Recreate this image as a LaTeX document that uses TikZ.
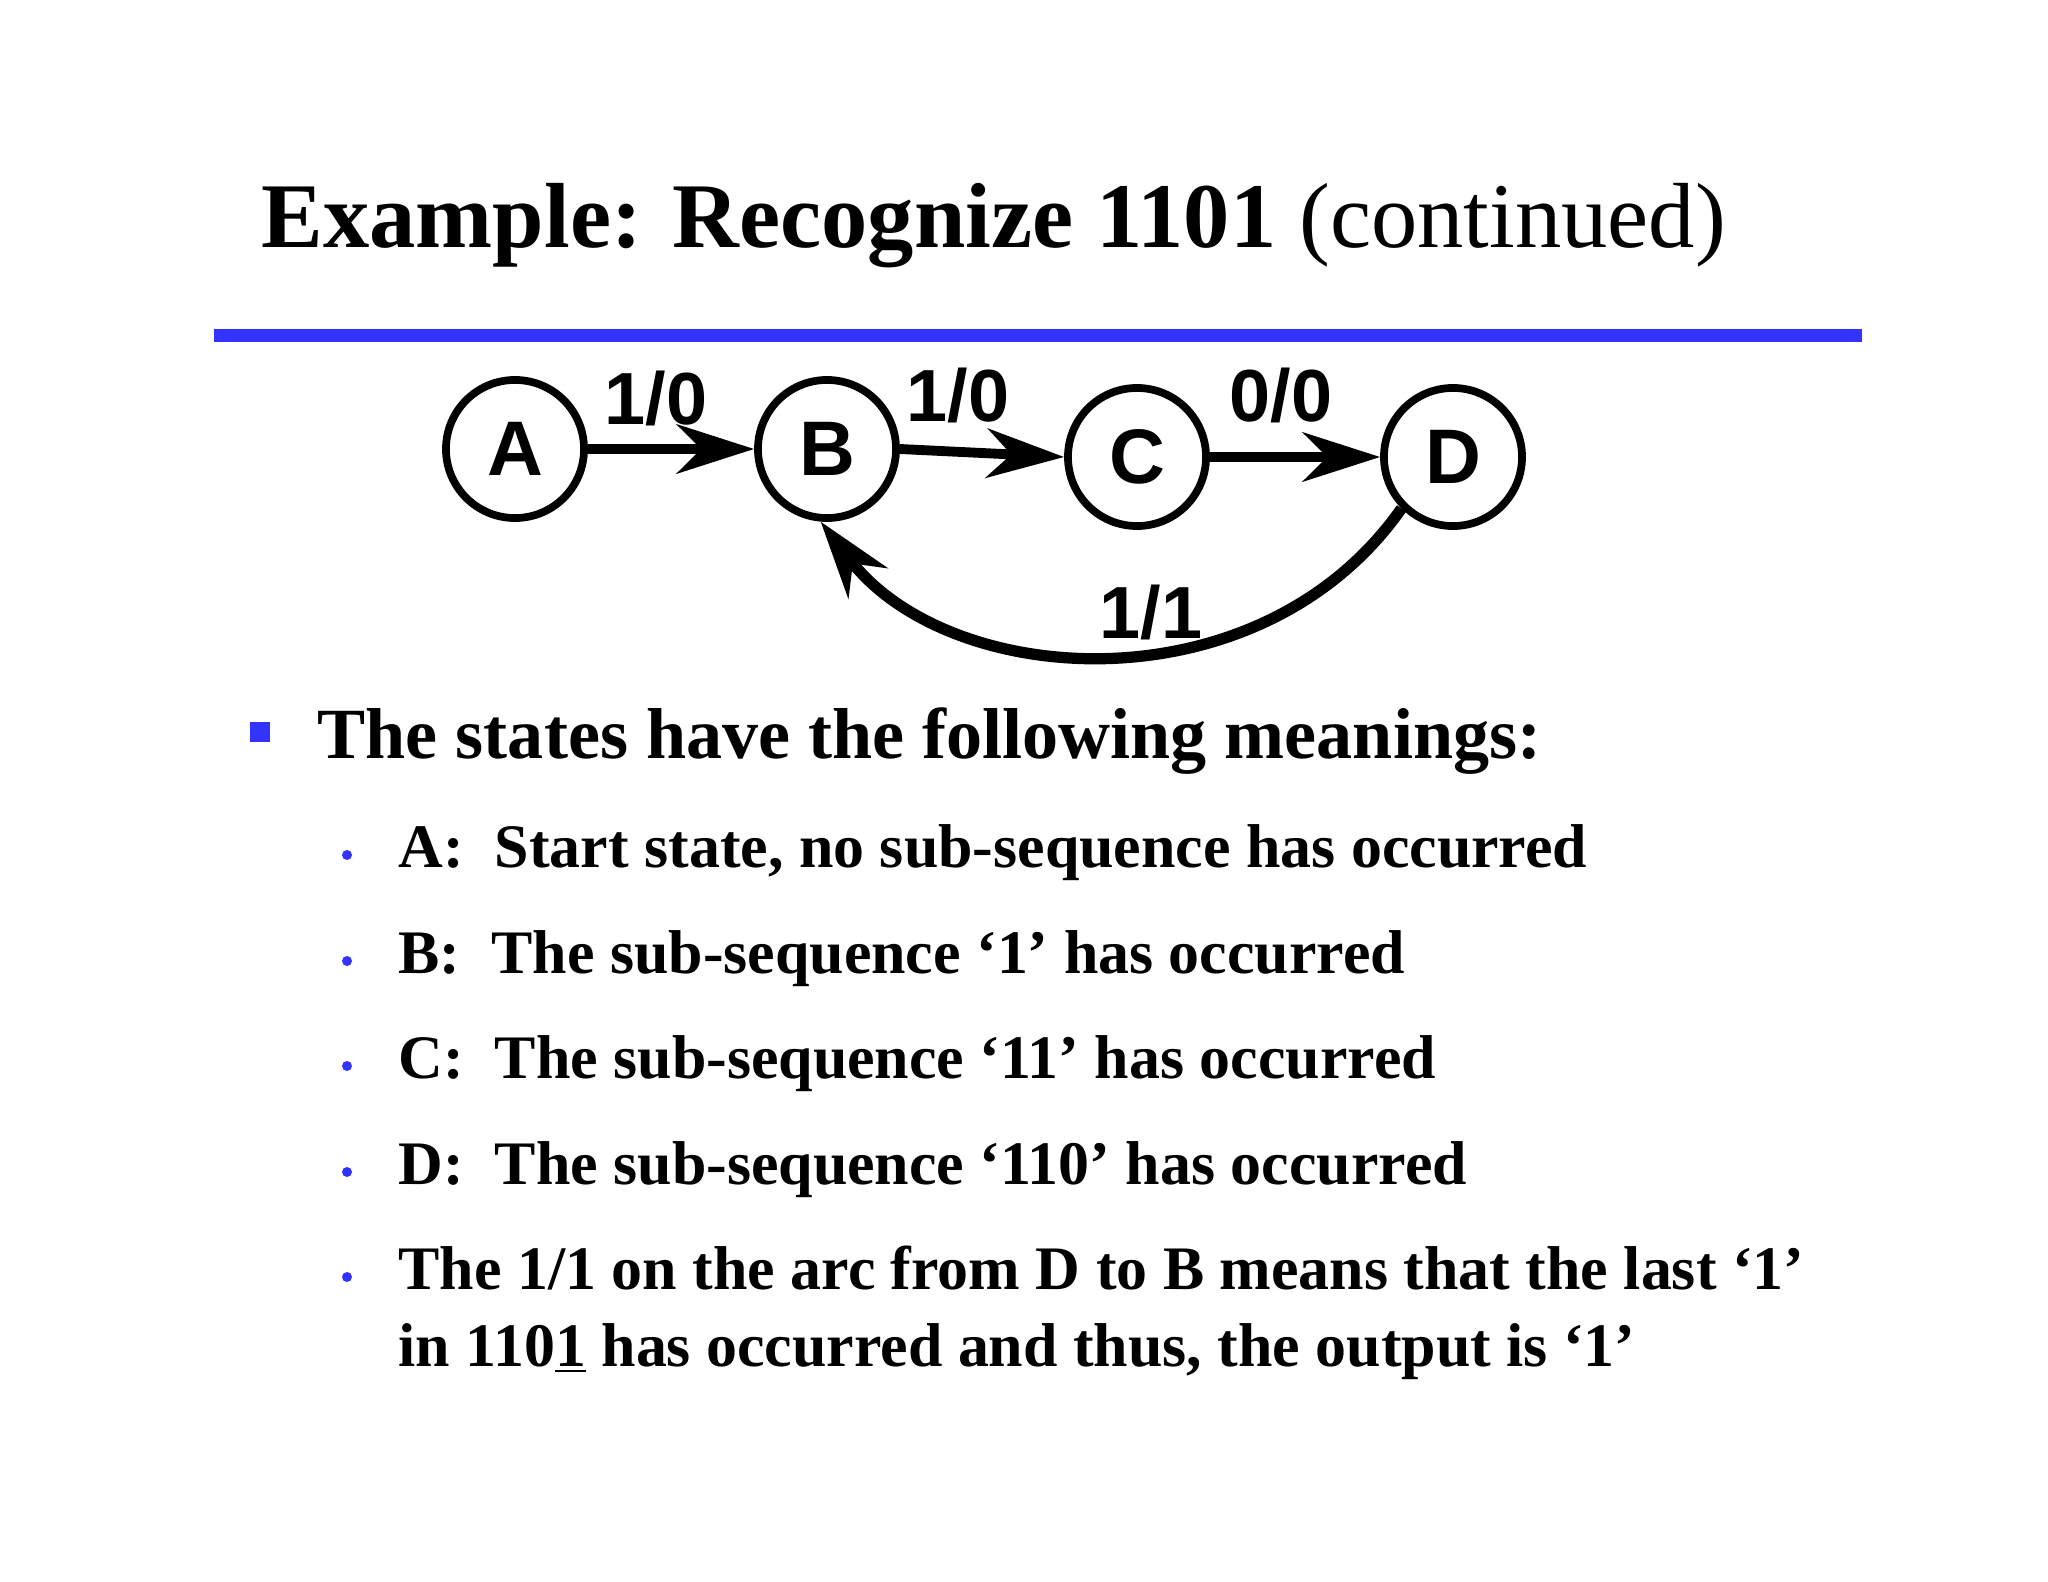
\documentclass[tikz,border=0pt]{standalone}
\usepackage{fontspec}
\setmainfont{Liberation Serif}
\newfontfamily\hv{Liberation Sans}
\usetikzlibrary{arrows.meta}
\definecolor{myblue}{RGB}{51,51,255}
\begin{document}
\begin{tikzpicture}[x=0.01cm,y=-0.01cm,
 st/.style={circle,draw,line width=2.2pt,minimum size=1.38cm,inner sep=0pt,font=\hv\bfseries\fontsize{22}{26}\selectfont},
 lab/.style={font=\hv\bfseries\fontsize{21}{26}\selectfont,inner sep=0pt},
 arr/.style={line width=2.8pt,-{Stealth[length=22pt,width=14pt,inset=7pt]}},
 sub/.style={anchor=base west,inner sep=0pt,font=\bfseries\fontsize{17.6}{22}\selectfont},
 dot/.style={circle,fill=myblue,inner sep=0pt,minimum size=0.1cm}]
\useasboundingbox (0,0) rectangle (2048,1582);
\node[anchor=base west,inner sep=0pt,font=\fontsize{26.3}{32}\selectfont] (title) at (261,248) {\textbf{Example: Recognize 1101} (continued)};
\fill[myblue] (214,329) rectangle (1862,342);
\node[st] (A) at (515,449) {A};
\node[st] (B) at (827,449) {B};
\node[st] (C) at (1137,457) {C};
\node[st] (D) at (1453,457) {D};
\draw[arr] (A) -- (B);
\draw[arr] (B.east) -- (C.west);
\draw[arr] (C) -- (D.west);
\draw[arr,line width=3.2pt] (D.-135) .. controls (1260,710) and (950,690) .. (B.-95);
\node[lab] (l1) at (656,398) {1/0};
\node[lab] (l2) at (958,395) {1/0};
\node[lab] (l3) at (1281,395) {0/0};
\node[lab] (l4) at (1151,612) {1/1};
\node[fill=myblue,minimum size=0.19cm,inner sep=0pt] (sq) at (260,732) {};
\node[anchor=base west,inner sep=0pt,font=\bfseries\fontsize{20.5}{25}\selectfont] (h) at (317,758) {The states have the following meanings:};
\node[dot] (d1) at (347,855) {}; \node[sub] (t1) at (398,867) {A:\ \ Start state, no sub-sequence has occurred};
\node[dot] (d2) at (347,961) {}; \node[sub] (t2) at (398,973) {B:\ \ The sub-sequence ‘1’ has occurred};
\node[dot] (d3) at (347,1066) {}; \node[sub] (t3) at (398,1078) {C:\ \ The sub-sequence ‘11’ has occurred};
\node[dot] (d4) at (347,1172) {}; \node[sub] (t4) at (398,1184) {D:\ \ The sub-sequence ‘110’ has occurred};
\node[dot] (d5) at (347,1277) {}; \node[sub] (t5) at (398,1289) {The 1/1 on the arc from D to B means that the last ‘1’};
\node[sub] (t6) at (398,1366) {in 110\underline{1} has occurred and thus, the output is ‘1’};
\end{tikzpicture}
\end{document}
